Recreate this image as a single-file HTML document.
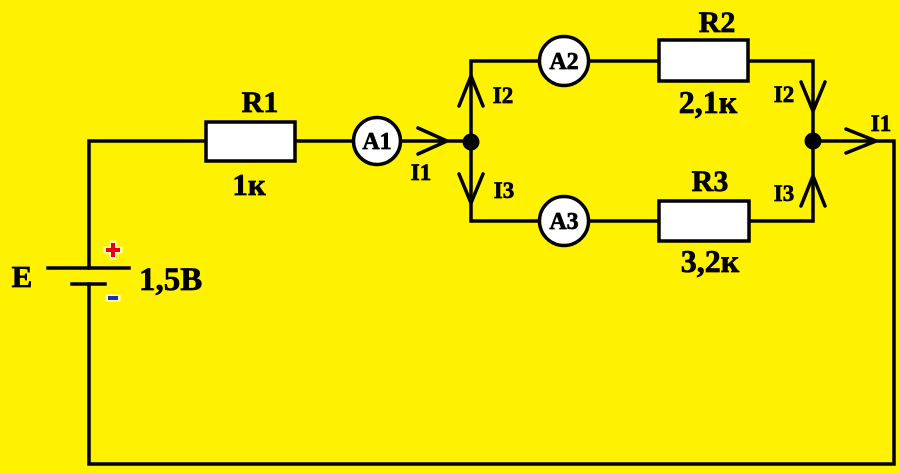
<!DOCTYPE html>
<html><head><meta charset="utf-8"><style>
html,body{margin:0;padding:0;background:#fff200;}
svg{display:block;}
text{font-family:"Liberation Serif","DejaVu Serif",serif;font-weight:bold;fill:#000;stroke:#000;stroke-width:0.7;}
</style></head><body>
<svg width="900" height="474" viewBox="0 0 900 474" xmlns="http://www.w3.org/2000/svg">
<rect x="0" y="0" width="900" height="474" fill="#fff200"/>
<g stroke="#000" stroke-width="3.5" fill="none" stroke-linecap="square">
<polyline points="89,268 89,141 471,141"/>
<polyline points="89,284 89,464 894,464 894,141 813,141"/>
<polyline points="471,141 471,61 813,61 813,221 471,221 471,141"/>
<line x1="48" y1="268" x2="129" y2="268"/>
<line x1="72" y1="284" x2="105" y2="284"/>
<polyline points="418,128 447,141 418,154" stroke-linecap="round"/>
<polyline points="846,129 876,141 846,153" stroke-linecap="round"/>
<polyline points="459,106 471,76 483,106" stroke-linecap="round"/>
<polyline points="459,174 471,203 483,174" stroke-linecap="round"/>
<polyline points="801,82 813,111 825,82" stroke-linecap="round"/>
<polyline points="801,206 813,176 825,206" stroke-linecap="round"/>
</g>
<g stroke="#000" stroke-width="3.5" fill="#fff">
<rect x="206" y="122" width="89" height="39"/>
<rect x="659" y="40" width="89" height="41"/>
<rect x="659" y="201" width="90" height="40"/>
<circle cx="377" cy="141" r="23.5"/>
<circle cx="564" cy="61" r="24.5"/>
<circle cx="564" cy="221" r="24.5"/>
</g>
<circle cx="471" cy="142" r="8.5" fill="#000"/>
<circle cx="813" cy="141" r="8.5" fill="#000"/>
<g stroke="#fff" stroke-width="7" stroke-linecap="square" opacity="0.7">
<line x1="107" y1="250" x2="119" y2="250"/><line x1="113" y1="244" x2="113" y2="256"/>
<line x1="109" y1="298" x2="117" y2="298"/>
</g>
<g stroke-width="4">
<line x1="106" y1="250" x2="120" y2="250" stroke="#e2001a"/><line x1="113" y1="243" x2="113" y2="257" stroke="#e2001a"/>
<line x1="108" y1="298" x2="118" y2="298" stroke="#1030c0"/>
</g>
<text x="260" y="112" font-size="30" text-anchor="middle">R1</text>
<text x="249" y="195" font-size="31" text-anchor="middle">1к</text>
<text x="717" y="32" font-size="30" text-anchor="middle">R2</text>
<text x="708" y="113" font-size="32" text-anchor="middle">2,1к</text>
<text x="710" y="191" font-size="30" text-anchor="middle">R3</text>
<text x="710" y="272" font-size="32" text-anchor="middle">3,2к</text>
<text x="22" y="287" font-size="31" text-anchor="middle">E</text>
<text x="139" y="290" font-size="33">1,5B</text>
<text x="377" y="149" font-size="24" text-anchor="middle">A1</text>
<text x="564" y="69" font-size="24" text-anchor="middle">A2</text>
<text x="564" y="229" font-size="24" text-anchor="middle">A3</text>
<text x="421" y="180" font-size="23" text-anchor="middle">I1</text>
<text x="503" y="103" font-size="23" text-anchor="middle">I2</text>
<text x="504" y="198" font-size="23" text-anchor="middle">I3</text>
<text x="784" y="102" font-size="23" text-anchor="middle">I2</text>
<text x="784" y="201" font-size="23" text-anchor="middle">I3</text>
<text x="881" y="131" font-size="23" text-anchor="middle">I1</text>
</svg>
</body></html>
